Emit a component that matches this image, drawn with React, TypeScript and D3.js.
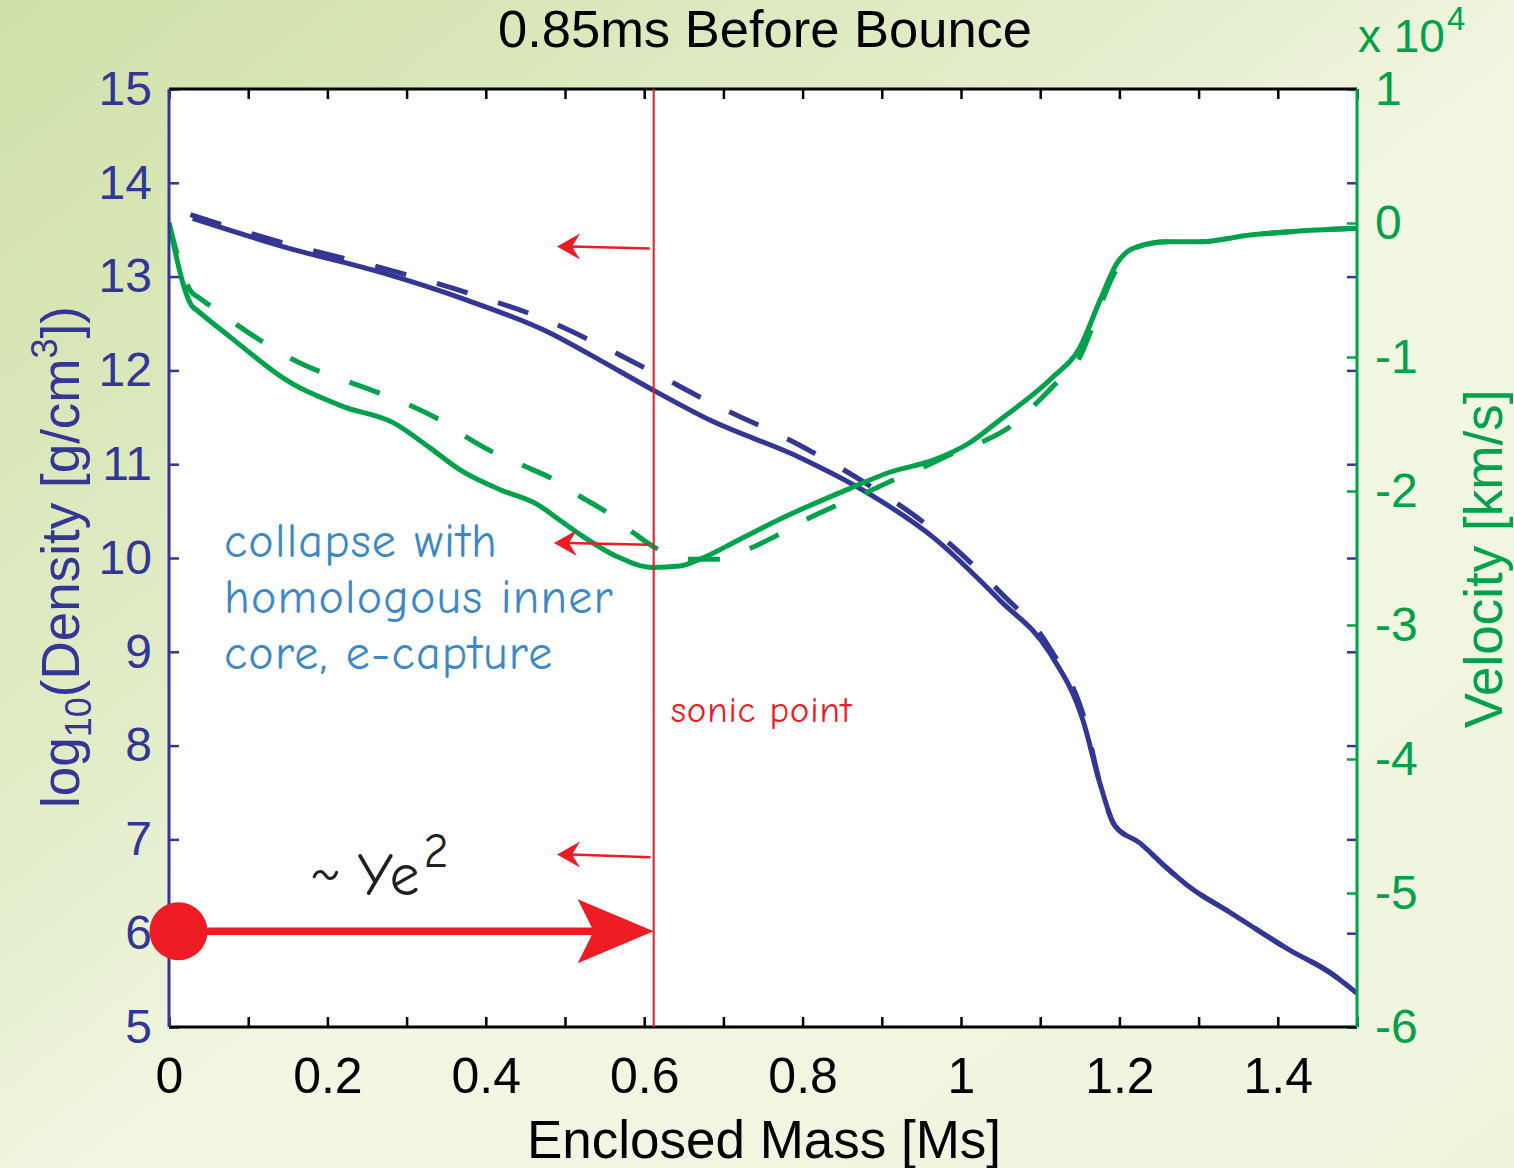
import React, { useEffect, useRef } from 'react';
import * as d3 from 'd3';

// enclosed mass [Ms] and log10 density for the two runs
const densityMass = [0.03, 0.144, 0.27, 0.376, 0.481, 0.544, 0.607, 0.683, 0.797, 0.881, 0.965, 1.049, 1.112, 1.154, 1.176, 1.194, 1.226, 1.258, 1.289, 1.34, 1.415, 1.466, 1.5];
const densitySolid = [13.62, 13.32, 13.04, 12.75, 12.4, 12.11, 11.81, 11.47, 11.07, 10.7, 10.22, 9.55, 8.99, 8.27, 7.58, 7.15, 6.96, 6.71, 6.49, 6.22, 5.82, 5.58, 5.36];
const densityDashedMass = [0.027, 0.144, 0.27, 0.376, 0.481, 0.544, 0.607, 0.683, 0.797, 0.881, 0.965, 1.049, 1.112, 1.157, 1.176, 1.194, 1.226, 1.258, 1.289, 1.34, 1.415, 1.466, 1.5];
const densityDashed = [13.66, 13.36, 13.09, 12.83, 12.52, 12.27, 12.0, 11.66, 11.2, 10.79, 10.3, 9.64, 9.04, 8.25, 7.58, 7.15, 6.96, 6.71, 6.49, 6.22, 5.82, 5.58, 5.36];

// velocity in units of 1e4 km/s
const velocityMass = [0, 0.029, 0.036, 0.077, 0.153, 0.22, 0.283, 0.33, 0.367, 0.418, 0.465, 0.494, 0.523, 0.566, 0.611, 0.645, 0.67, 0.721, 0.775, 0.86, 0.91, 0.965, 1.011, 1.049, 1.116, 1.15, 1.176, 1.197, 1.217, 1.26, 1.302, 1.365, 1.428, 1.5];
const velocitySolid = [0.0, -0.62, -0.655, -0.85, -1.19, -1.37, -1.49, -1.68, -1.84, -1.99, -2.1, -2.22, -2.34, -2.49, -2.57, -2.56, -2.51, -2.36, -2.2, -1.98, -1.86, -1.77, -1.64, -1.47, -1.15, -0.93, -0.57, -0.3, -0.19, -0.14, -0.14, -0.09, -0.06, -0.04];
const velocityDashedMass = [0, 0.029, 0.036, 0.086, 0.119, 0.157, 0.191, 0.229, 0.266, 0.304, 0.342, 0.376, 0.409, 0.447, 0.481, 0.519, 0.553, 0.586, 0.616, 0.658, 0.696, 0.737, 0.768, 0.809, 0.838, 0.881, 0.914, 0.957, 0.986, 1.028, 1.062, 1.096, 1.121, 1.15, 1.163, 1.179, 1.194, 1.217, 1.26, 1.302, 1.365, 1.428, 1.5];
const velocityDashed = [0.0, -0.52, -0.55, -0.76, -0.89, -1.02, -1.11, -1.19, -1.27, -1.36, -1.47, -1.6, -1.71, -1.81, -1.9, -2.04, -2.16, -2.31, -2.43, -2.51, -2.51, -2.42, -2.33, -2.2, -2.12, -2.01, -1.92, -1.81, -1.73, -1.63, -1.52, -1.34, -1.19, -1.0, -0.82, -0.57, -0.37, -0.19, -0.14, -0.14, -0.09, -0.06, -0.04];

const massTicks = [0, 0.1, 0.2, 0.3, 0.4, 0.5, 0.6, 0.7, 0.8, 0.9, 1, 1.1, 1.2, 1.3, 1.4, 1.5];
const densityTicks = [5, 6, 7, 8, 9, 10, 11, 12, 13, 14, 15];
const velocityTicks = [-6, -5, -4, -3, -2, -1, 0, 1];

const sonicMass = 0.612;
const smallArrows = [
  { from: [0.607, 13.3], to: [0.49, 13.32] },
  { from: [0.606, 10.14], to: [0.486, 10.16] },
  { from: [0.608, 6.81], to: [0.49, 6.84] },
];
const bigArrow = { start: [0.012, 6.02], end: sonicMass };
const collapseLines = ['collapse with', 'homologous inner', 'core, e-capture'];

const BLUE = '#323695';
const GREEN = '#00A14B';
const RED = '#ED1C24';
const HELV = "'Liberation Sans', Arial, Helvetica, sans-serif";
const HAND = "'Comic Sans MS', 'Comic Neue', 'Noto Sans', sans-serif";

const App = () => {
  const svgRef = useRef(null);

  useEffect(() => {
    const svg = d3.select(svgRef.current);
    svg.selectAll('*').remove();
    const width = 1514;
    const height = 1168;
    const left = 169, right = 1357, top = 89, bottom = 1027;

    const x = d3.scaleLinear().domain([0, 1.5]).range([left, right]);
    const yL = d3.scaleLinear().domain([5, 15]).range([bottom, top]);
    const yR = d3.scaleLinear().domain([-6, 1]).range([bottom, top]);

    const defs = svg.append('defs');
    const grad = defs.append('linearGradient').attr('id', 'bg').attr('x1', 0).attr('y1', 0).attr('x2', 1).attr('y2', 1);
    grad.append('stop').attr('offset', 0).attr('stop-color', '#d0e1a9');
    grad.append('stop').attr('offset', 0.35).attr('stop-color', '#e2ecc8');
    grad.append('stop').attr('offset', 0.55).attr('stop-color', '#f2f7e4');
    grad.append('stop').attr('offset', 1).attr('stop-color', '#eef4dc');
    defs.append('clipPath').attr('id', 'plot').append('rect')
      .attr('x', left).attr('y', top).attr('width', right - left).attr('height', bottom - top);

    svg.append('rect').attr('width', width).attr('height', height).attr('fill', 'url(#bg)');
    svg.append('rect').attr('x', left).attr('y', top).attr('width', right - left).attr('height', bottom - top).attr('fill', '#fff');

    // curves
    const curves = svg.append('g').attr('clip-path', 'url(#plot)');
    const drawLine = (xs, ys, scale, color, dashed) => {
      const line = d3.line().x(d => x(d[0])).y(d => scale(d[1])).curve(d3.curveMonotoneX);
      curves.append('path')
        .attr('d', line(xs.map((m, i) => [m, ys[i]])))
        .attr('fill', 'none')
        .attr('stroke', color)
        .attr('stroke-width', 5)
        .attr('stroke-linejoin', 'round')
        .attr('stroke-dasharray', dashed ? '32,32' : null);
    };
    drawLine(densityDashedMass, densityDashed, yL, BLUE, true);
    drawLine(densityMass, densitySolid, yL, BLUE, false);
    drawLine(velocityDashedMass, velocityDashed, yR, GREEN, true);
    drawLine(velocityMass, velocitySolid, yR, GREEN, false);

    // axes
    const styleAxis = (g, color, size) => {
      g.selectAll('line').attr('stroke', color).attr('stroke-width', 2.5);
      g.selectAll('path').remove();
      g.selectAll('text').attr('fill', color).attr('font-family', HELV).attr('font-size', size);
    };
    const fmt = d => String(+d.toFixed(1));
    svg.append('g').attr('transform', `translate(0,${bottom})`)
      .call(d3.axisBottom(x).tickValues(massTicks).tickSizeInner(-10).tickSizeOuter(0).tickPadding(30)
        .tickFormat(d => (Math.round(d * 10) % 2 === 0 && d < 1.5 ? fmt(d) : '')))
      .call(g => styleAxis(g, '#000', 50));
    svg.append('g').attr('transform', `translate(0,${top})`)
      .call(d3.axisTop(x).tickValues(massTicks).tickSizeInner(-10).tickSizeOuter(0).tickFormat(() => ''))
      .call(g => styleAxis(g, '#000', 50));
    svg.append('g').attr('transform', `translate(${left},0)`)
      .call(d3.axisLeft(yL).tickValues(densityTicks).tickSizeInner(-10).tickSizeOuter(0).tickPadding(17).tickFormat(d3.format('d')))
      .call(g => styleAxis(g, BLUE, 48));
    svg.append('g').attr('transform', `translate(${right},0)`)
      .call(d3.axisLeft(yL).tickValues(densityTicks).tickSizeInner(10).tickSizeOuter(0).tickFormat(() => ''))
      .call(g => styleAxis(g, BLUE, 48));
    svg.append('g').attr('transform', `translate(${right},0)`)
      .call(d3.axisRight(yR).tickValues(velocityTicks).tickSizeInner(-10).tickSizeOuter(0).tickPadding(18)
        .tickFormat(d => (d < 0 ? '-' + Math.abs(d) : String(d))))
      .call(g => styleAxis(g, GREEN, 48));

    // frame
    const frame = svg.append('g').attr('stroke-width', 3);
    frame.append('line').attr('x1', left).attr('x2', right).attr('y1', top).attr('y2', top).attr('stroke', '#000');
    frame.append('line').attr('x1', left).attr('x2', right).attr('y1', bottom).attr('y2', bottom).attr('stroke', '#000');
    frame.append('line').attr('x1', left).attr('x2', left).attr('y1', top).attr('y2', bottom).attr('stroke', BLUE);
    frame.append('line').attr('x1', right).attr('x2', right).attr('y1', top).attr('y2', bottom).attr('stroke', GREEN);

    // titles
    svg.append('text').attr('x', 765).attr('y', 47).attr('text-anchor', 'middle')
      .attr('font-family', HELV).attr('font-size', 52.5).attr('fill', '#000').text('0.85ms Before Bounce');
    svg.append('text').attr('x', 764).attr('y', 1158).attr('text-anchor', 'middle')
      .attr('font-family', HELV).attr('font-size', 53).attr('fill', '#000').text('Enclosed Mass [Ms]');

    const yLab = svg.append('text').attr('transform', 'translate(79,557) rotate(-90)').attr('text-anchor', 'middle')
      .attr('font-family', HELV).attr('font-size', 53).attr('fill', BLUE);
    yLab.append('tspan').text('log');
    yLab.append('tspan').attr('font-size', 36).attr('dy', 12).text('10');
    yLab.append('tspan').attr('dy', -12).text('(Density [g/cm');
    yLab.append('tspan').attr('font-size', 36).attr('dy', -22).text('3');
    yLab.append('tspan').attr('dy', 22).text('])');

    svg.append('text').attr('transform', 'translate(1502,559) rotate(-90)').attr('text-anchor', 'middle')
      .attr('font-family', HELV).attr('font-size', 53).attr('fill', GREEN).text('Velocity [km/s]');

    const exp = svg.append('text').attr('x', 1358).attr('y', 52)
      .attr('font-family', HELV).attr('font-size', 46).attr('fill', GREEN);
    exp.append('tspan').text('x 10');
    exp.append('tspan').attr('font-size', 33).attr('dy', -22).attr('dx', 2).text('4');

    // sonic point
    const ann = svg.append('g');
    ann.append('line').attr('x1', x(sonicMass)).attr('x2', x(sonicMass)).attr('y1', top).attr('y2', bottom)
      .attr('stroke', RED).attr('stroke-width', 2);
    ann.append('text').attr('x', x(sonicMass) + 17).attr('y', 722)
      .attr('font-family', HAND).attr('font-size', 37).attr('letter-spacing', 0.8).attr('fill', RED).text('sonic point');

    const headPath = (tx, ty, len, half, notch, dir) =>
      `M${tx},${ty} L${tx + dir * len},${ty - half} L${tx + dir * notch},${ty} L${tx + dir * len},${ty + half} Z`;

    smallArrows.forEach(a => {
      const x1 = x(a.from[0]), y1 = yL(a.from[1]), x2 = x(a.to[0]), y2 = yL(a.to[1]);
      ann.append('line').attr('x1', x1).attr('y1', y1).attr('x2', x2 + 14).attr('y2', y2)
        .attr('stroke', RED).attr('stroke-width', 2.5);
      ann.append('path').attr('d', headPath(x2, y2, 23, 13, 15, 1)).attr('fill', RED);
    });

    const by = yL(bigArrow.start[1]);
    const tipX = x(bigArrow.end);
    ann.append('line').attr('x1', x(bigArrow.start[0])).attr('x2', tipX - 60).attr('y1', by).attr('y2', by)
      .attr('stroke', RED).attr('stroke-width', 7.5);
    ann.append('path').attr('d', headPath(tipX, by, -76, 32, -60, 1)).attr('fill', RED);
    ann.append('circle').attr('cx', x(bigArrow.start[0])).attr('cy', by).attr('r', 29).attr('fill', RED);

    const ye = ann.append('text').attr('x', 310).attr('y', 895)
      .attr('font-family', HAND).attr('fill', '#231f20').attr('font-weight', 500);
    ye.append('tspan').attr('font-size', 50).attr('dy', -8).text('~ ');
    ye.append('tspan').attr('font-size', 60).attr('dy', 8).text('Ye');
    ye.append('tspan').attr('font-size', 48).attr('dy', -28).attr('dx', 4).text('2');

    collapseLines.forEach((t, i) => {
      ann.append('text').attr('x', 224).attr('y', 557 + i * 56)
        .attr('font-family', HAND).attr('font-size', 48).attr('letter-spacing', 1.2).attr('fill', '#3B88C9').text(t);
    });
  }, []);

  return (
    <svg ref={svgRef} width="1514" height="1168" style={{ position: 'absolute', left: 0, top: 0 }}></svg>
  );
};

export default App;
